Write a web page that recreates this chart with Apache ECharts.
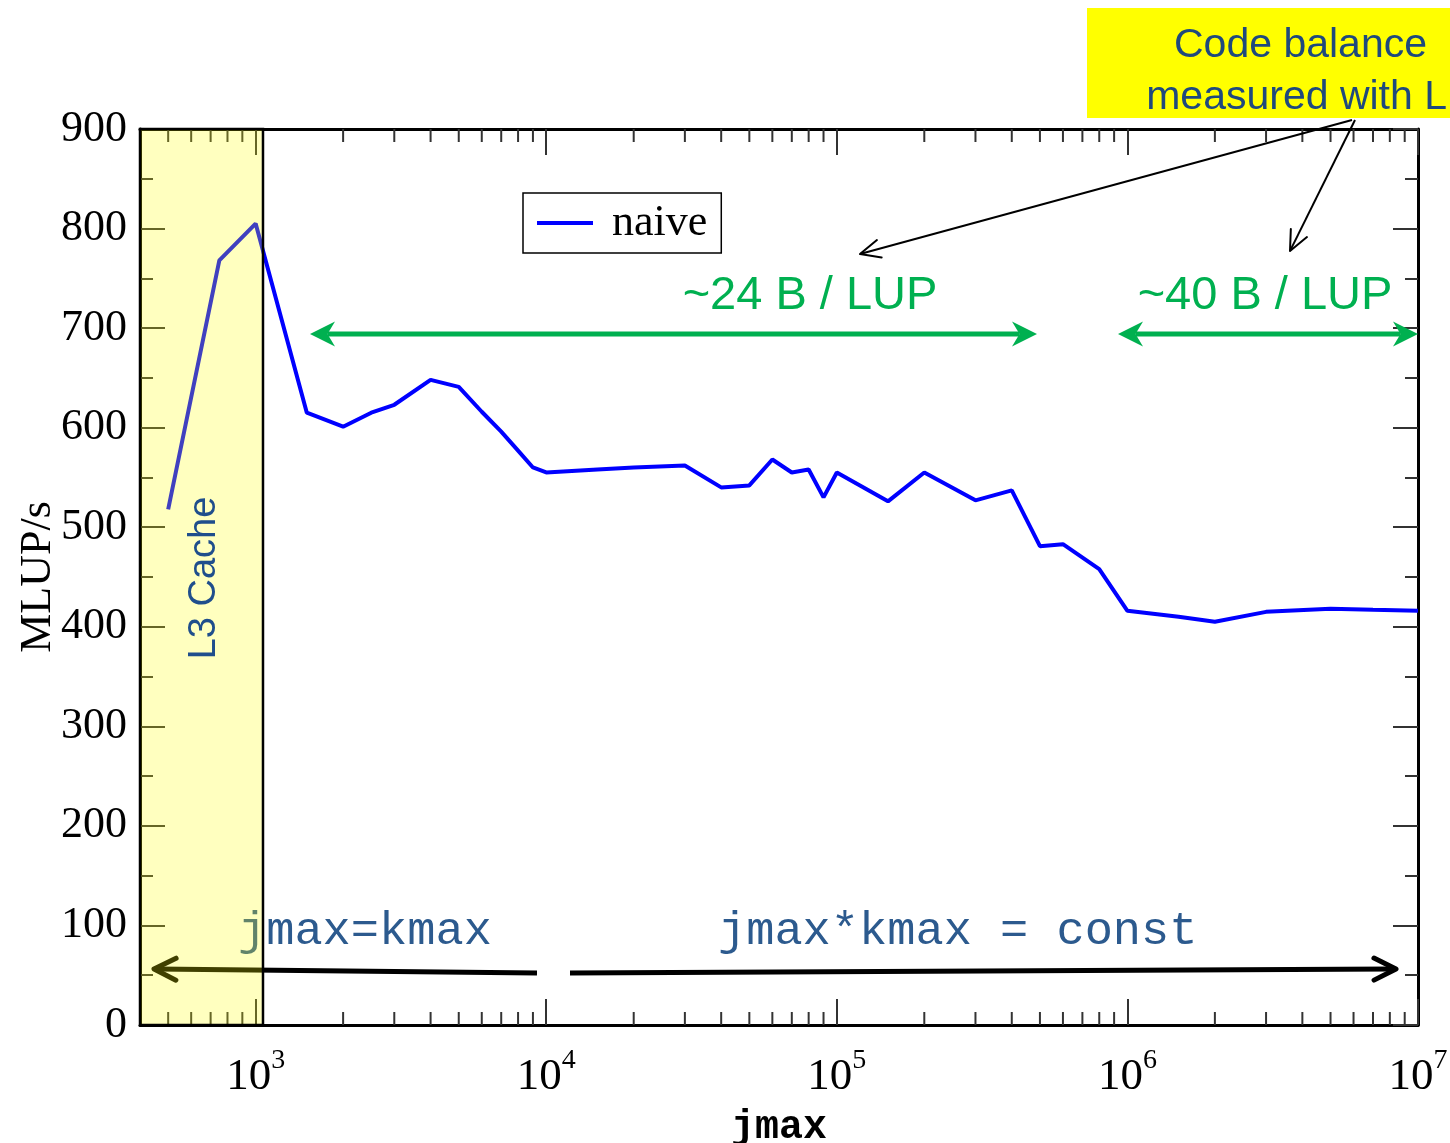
<!DOCTYPE html>
<html>
<head>
<meta charset="utf-8">
<script src="https://cdn.jsdelivr.net/npm/echarts@6/dist/echarts.min.js"></script>
<style>
  html, body { margin: 0; padding: 0; background: #fff; }
  #chart { width: 1450px; height: 1143px; }
</style>
</head>
<body>
<div id="chart"></div>
<script>
// measured throughput of the naive kernel
var jmax = [500, 750, 1000, 1500, 2000, 2500, 3000, 4000, 5000, 6000, 7000, 8000, 9000,
  10000, 15000, 20000, 30000, 40000, 50000, 60000, 70000, 80000, 90000,
  100000, 150000, 200000, 300000, 400000, 500000, 600000, 800000,
  1000000, 1500000, 2000000, 3000000, 5000000, 7000000, 10000000];
var mlups = [518, 768, 805, 615, 601, 615, 623, 648, 641, 616, 596, 577, 560,
  555, 558, 560, 562, 540, 542, 568, 555, 558, 530,
  555, 526, 555, 527, 537, 481, 483, 458,
  416, 410, 405, 415, 418, 417, 416];

var xMin = 400, xMax = 10000000;
var xExponents = [3, 4, 5, 6, 7];
var yMin = 0, yMax = 900, yStep = 100;
var l3Range = [400, 1060];

// minor ticks 2..9 of every decade
var minorX = [];
for (var d = 2; d < 7; d++) {
  for (var m = 2; m <= 9; m++) {
    var v = m * Math.pow(10, d);
    if (v > xMin && v < xMax) minorX.push([v, 0]);
  }
}

var serif = 'Liberation Serif';
var sans = 'Liberation Sans';
var mono = 'Liberation Mono';

function head(x1, y1, x2, y2, len, half) {
  var dx = x2 - x1, dy = y2 - y1;
  var l = Math.sqrt(dx * dx + dy * dy);
  var ux = dx / l, uy = dy / l;
  var bx = x2 - ux * len, by = y2 - uy * len;
  return {
    ux: ux, uy: uy,
    l: [bx - uy * half, by + ux * half],
    r: [bx + uy * half, by - ux * half],
    n: [x2 - ux * len * 0.7, y2 - uy * len * 0.7]
  };
}

function openArrow(x1, y1, x2, y2, w, len, half, z) {
  var h = head(x1, y1, x2, y2, len, half);
  return [
    { type: 'line', z: z, shape: { x1: x1, y1: y1, x2: x2 - h.ux * w * 0.5, y2: y2 - h.uy * w * 0.5 },
      style: { stroke: '#000', lineWidth: w } },
    { type: 'polyline', z: z, shape: { points: [h.l, [x2, y2], h.r] },
      style: { stroke: '#000', lineWidth: w, fill: null, lineJoin: 'round', lineCap: 'round' } }
  ];
}

function greenArrow(xa, xb, y) {
  var c = '#00b050';
  var a = head(xb, y, xa, y, 25, 12.5);
  var b = head(xa, y, xb, y, 25, 12.5);
  return [
    { type: 'line', z: 20, shape: { x1: a.n[0], y1: y, x2: b.n[0], y2: y },
      style: { stroke: c, lineWidth: 5 } },
    { type: 'polygon', z: 20, shape: { points: [[xa, y], a.l, a.n, a.r] }, style: { fill: c } },
    { type: 'polygon', z: 20, shape: { points: [[xb, y], b.l, b.n, b.r] }, style: { fill: c } }
  ];
}

function txt(x, y, s, size, family, color, align, z, extra) {
  var o = {
    type: 'text', x: x, y: y, z: z,
    style: { text: s, fontSize: size, fontFamily: family, fill: color,
      align: align, verticalAlign: 'middle' }
  };
  if (extra) for (var k in extra) o[k] = extra[k];
  return o;
}

var annotations = [].concat(
  [
    { type: 'rect', z: 20, shape: { x: 1087, y: 8, width: 363, height: 110 }, style: { fill: '#ffff00' } },
    txt(1427, 46, 'Code balance', 41, sans, '#1f497d', 'right', 21),
    txt(1447, 98, 'measured with L', 41, sans, '#1f497d', 'right', 21),
    txt(810, 296, '~24 B / LUP', 47, sans, '#00b050', 'center', 20),
    txt(1265, 296, '~40 B / LUP', 47, sans, '#00b050', 'center', 20),
    txt(238, 932, 'jmax=kmax', 47, mono, '#2c5a8e', 'left', 5),
    txt(718, 932, 'jmax*kmax = const', 47, mono, '#2c5a8e', 'left', 5),
    txt(205, 578, 'L3 Cache', 38, sans, '#1f4e8c', 'center', 20, { rotation: Math.PI / 2 })
  ],
  greenArrow(310, 1037, 334),
  greenArrow(1118, 1418, 334),
  openArrow(537, 973, 154, 969, 5, 22, 11, 5),
  openArrow(570, 973, 1396, 969, 5, 22, 11, 5),
  openArrow(1352, 120, 860, 254, 2, 20, 9, 20),
  openArrow(1355, 120, 1290, 251, 2, 20, 9, 20)
);

var tickStyle = { color: '#333', width: 2 };

var chart = echarts.init(document.getElementById('chart'));
chart.setOption({
  animation: false,
  backgroundColor: '#fff',
  grid: { left: 140, right: 32, top: 129, bottom: 118, containLabel: false, outerBoundsMode: 'none' },
  legend: {
    data: ['naive'],
    left: 523, top: 193,
    padding: [8, 14, 8, 14],
    borderColor: '#000', borderWidth: 1.5,
    icon: 'rect', itemWidth: 56, itemHeight: 4,
    textStyle: { fontFamily: serif, fontSize: 44, color: '#000', padding: [0, 0, 0, 14] }
  },
  xAxis: [
    {
      type: 'log', logBase: 10, min: xMin, max: xMax, position: 'bottom',
      name: 'jmax', nameLocation: 'middle', nameGap: 83,
      nameTextStyle: { fontFamily: mono, fontWeight: 'bold', fontSize: 40, color: '#000' },
      axisLine: { onZero: false, lineStyle: { color: '#000', width: 3 } },
      axisTick: { inside: true, length: 26, lineStyle: tickStyle },
      splitLine: { show: false },
      axisLabel: {
        margin: 22,
        formatter: function (v) {
          var e = Math.round(Math.log10(v));
          if (Math.abs(Math.log10(v) - e) > 1e-6 || xExponents.indexOf(e) < 0) return '';
          return '{b|10}{s|' + e + '}';
        },
        rich: {
          b: { fontFamily: serif, fontSize: 45, color: '#000', lineHeight: 60, verticalAlign: 'middle' },
          s: { fontFamily: serif, fontSize: 28, color: '#000', verticalAlign: 'top' }
        }
      }
    },
    {
      type: 'log', logBase: 10, min: xMin, max: xMax, position: 'top',
      axisLine: { onZero: false, lineStyle: { color: '#000', width: 3 } },
      axisTick: { inside: true, length: 26, lineStyle: tickStyle },
      axisLabel: { show: false },
      splitLine: { show: false }
    }
  ],
  yAxis: [
    {
      type: 'value', min: yMin, max: yMax, interval: yStep,
      name: 'MLUP/s', nameLocation: 'middle', nameGap: 80, nameMoveOverlap: false,
      nameTextStyle: { fontFamily: serif, fontSize: 44, color: '#000' },
      axisLine: { show: true, onZero: false, lineStyle: { color: '#000', width: 3 } },
      axisTick: { inside: true, length: 25, lineStyle: tickStyle },
      minorTick: { show: true, splitNumber: 2, length: 13, lineStyle: tickStyle },
      splitLine: { show: false },
      axisLabel: { fontFamily: serif, fontSize: 44, color: '#000', margin: 13 }
    },
    {
      type: 'value', min: yMin, max: yMax, interval: yStep, position: 'right',
      axisLine: { show: true, onZero: false, lineStyle: { color: '#000', width: 3 } },
      axisTick: { inside: true, length: 25, lineStyle: tickStyle },
      minorTick: { show: true, splitNumber: 2, length: 13, lineStyle: tickStyle },
      splitLine: { show: false },
      axisLabel: { show: false }
    }
  ],
  series: [
    {
      name: 'naive',
      type: 'line',
      color: '#0000ff',
      data: jmax.map(function (x, i) { return [x, mlups[i]]; }),
      showSymbol: false,
      symbol: 'none',
      lineStyle: { color: '#0000ff', width: 4 },
      markArea: {
        silent: true,
        z: 10,
        itemStyle: { color: 'rgba(255,255,0,0.25)', borderColor: '#000', borderWidth: 2.5 },
        data: [[{ xAxis: l3Range[0] }, { xAxis: l3Range[1] }]]
      }
    },
    {
      name: 'minor ticks',
      type: 'custom',
      silent: true,
      data: minorX,
      renderItem: function (params, api) {
        var v = api.value(0);
        var b = api.coord([v, yMin]);
        var t = api.coord([v, yMax]);
        return {
          type: 'group',
          children: [
            { type: 'line', shape: { x1: b[0], y1: b[1], x2: b[0], y2: b[1] - 13 }, style: { stroke: '#333', lineWidth: 2 } },
            { type: 'line', shape: { x1: t[0], y1: t[1], x2: t[0], y2: t[1] + 13 }, style: { stroke: '#333', lineWidth: 2 } }
          ]
        };
      }
    }
  ],
  graphic: annotations
});
</script>
</body>
</html>
